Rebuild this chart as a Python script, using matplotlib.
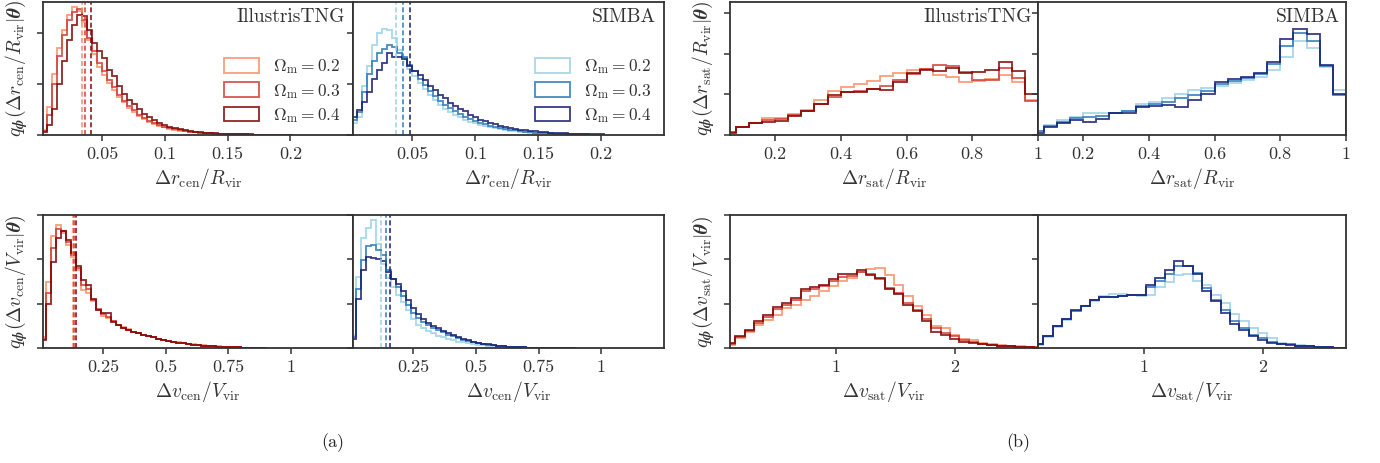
import numpy as np
import matplotlib
matplotlib.use("Agg")
import matplotlib.pyplot as plt

plt.rcParams["font.family"] = "serif"
plt.rcParams["font.serif"] = ["cmr10"]
plt.rcParams["mathtext.fontset"] = "cm"
plt.rcParams["axes.unicode_minus"] = False
plt.rcParams["axes.formatter.use_mathtext"] = True

# ---------------- data (heights in arbitrary density units) ----------------
omega_labels = [r"$\Omega_{\rm m} = 0.2$", r"$\Omega_{\rm m} = 0.3$", r"$\Omega_{\rm m} = 0.4$"]
tng_colors = ["#fb8c62", "#cf3b33", "#800000"]
simba_colors = ["#99d1e6", "#2a76ba", "#141a73"]

# (a) top: delta r_cen / R_vir, bins of 0.004 from 0.002
rcen_edges = np.linspace(0.002, 0.202, 51)
rcen_tng_02 = [1.0, 5.5, 12.0, 17.0, 20.5, 23.5, 25.0, 24.3, 22.0, 18.5,
               15.8, 13.3, 11.8, 10.2, 8.8, 7.4, 6.4, 5.2, 4.5, 3.8,
               3.2, 2.6, 2.2, 1.8, 1.5, 1.2, 1.0, 0.85, 0.7, 0.6,
               0.5, 0.42, 0.36, 0.3, 0.26, 0.22, 0.18, 0.16, 0.13, 0.11,
               0.1, 0.08, 0.07, 0.06, 0.05, 0.05, 0.04, 0.04, 0.03, 0.03]
rcen_tng_03 = [0.8, 4.0, 10.0, 15.5, 19.5, 22.5, 24.0, 24.6, 22.5, 19.0,
               16.5, 14.0, 12.5, 10.8, 9.3, 7.8, 6.7, 5.6, 4.8, 4.0,
               3.4, 2.8, 2.3, 1.9, 1.6, 1.3, 1.1, 0.9, 0.75, 0.62,
               0.52, 0.44, 0.37, 0.31, 0.27, 0.23, 0.19, 0.16, 0.14, 0.12,
               0.1, 0.09, 0.08, 0.07, 0.06, 0.05, 0.04, 0.04, 0.03, 0.03]
rcen_tng_04 = [0.5, 2.0, 5.0, 10.0, 14.5, 18.5, 21.5, 23.5, 23.2, 20.5,
               18.0, 16.5, 15.0, 12.8, 11.5, 9.5, 8.0, 6.8, 6.0, 5.0,
               4.2, 3.5, 2.9, 2.4, 1.9, 1.6, 1.3, 1.1, 0.9, 0.75,
               0.62, 0.52, 0.44, 0.37, 0.31, 0.26, 0.22, 0.19, 0.16, 0.14,
               0.12, 0.1, 0.09, 0.08, 0.07, 0.06, 0.05, 0.05, 0.04, 0.04]
rcen_simba_02 = [2.3, 3.5, 9.5, 13.5, 17.5, 20.0, 20.7, 20.5, 19.0, 16.7,
                 15.0, 13.0, 11.5, 10.2, 9.0, 7.8, 6.8, 5.9, 5.1, 4.5,
                 4.0, 3.5, 3.0, 2.6, 2.3, 2.0, 1.7, 1.5, 1.3, 1.1,
                 0.95, 0.8, 0.7, 0.6, 0.5, 0.42, 0.36, 0.3, 0.26, 0.22,
                 0.19, 0.16, 0.14, 0.12, 0.1, 0.09, 0.08, 0.07, 0.06, 0.05]
rcen_simba_03 = [3.0, 4.5, 8.5, 12.0, 14.5, 16.0, 16.8, 17.6, 17.3, 16.0,
                 15.2, 13.6, 12.5, 11.0, 9.8, 8.6, 7.6, 6.7, 5.9, 5.2,
                 4.6, 4.1, 3.6, 3.2, 2.8, 2.4, 2.1, 1.8, 1.6, 1.4,
                 1.2, 1.0, 0.88, 0.76, 0.65, 0.56, 0.48, 0.41, 0.35, 0.3,
                 0.26, 0.22, 0.19, 0.16, 0.14, 0.12, 0.1, 0.09, 0.08, 0.07]
rcen_simba_04 = [3.5, 4.9, 6.5, 8.5, 11.0, 12.8, 14.0, 16.0, 15.3, 15.2,
                 14.8, 13.5, 12.6, 11.8, 10.8, 9.6, 8.7, 7.9, 7.2, 6.2,
                 5.7, 5.0, 4.6, 3.9, 3.5, 3.0, 2.7, 2.4, 2.1, 1.8,
                 1.6, 1.4, 1.2, 1.05, 0.9, 0.8, 0.7, 0.6, 0.52, 0.45,
                 0.4, 0.35, 0.3, 0.26, 0.22, 0.19, 0.16, 0.14, 0.12, 0.1]
rcen_tng_median = [0.0338, 0.0364, 0.041]
rcen_simba_median = [0.0371, 0.0424, 0.0478]

# (a) bottom: delta v_cen / V_vir, bins of 0.02 from 0.001
vcen_edges = np.linspace(0.001, 0.901, 46)
vcen_tng_02 = [2.4, 14.9, 25.2, 27.8, 26.0, 23.3, 20.5, 17.5, 13.0, 12.3,
               10.5, 8.6, 7.3, 6.8, 6.0, 5.3, 4.7, 4.2, 3.7, 3.3,
               3.0, 2.7, 2.4, 2.1, 1.85, 1.6, 1.4, 1.25, 1.1, 0.95,
               0.82, 0.7, 0.6, 0.5, 0.42, 0.35, 0.29, 0.23, 0.18, 0.14,
               0.11, 0.08, 0.06, 0.05, 0.04]
vcen_tng_03 = [2.0, 12.5, 22.5, 26.8, 26.3, 24.0, 21.0, 18.0, 14.2, 13.2,
               10.8, 8.8, 7.6, 7.0, 6.1, 5.2, 4.6, 4.1, 3.7, 3.3,
               3.0, 2.7, 2.4, 2.1, 1.8, 1.6, 1.4, 1.2, 1.05, 0.9,
               0.78, 0.66, 0.56, 0.47, 0.39, 0.32, 0.26, 0.2, 0.16, 0.12,
               0.09, 0.07, 0.05, 0.04, 0.03]
vcen_tng_04 = [1.7, 10.0, 19.5, 24.8, 26.5, 24.3, 21.5, 18.5, 15.3, 14.2,
               11.1, 8.6, 7.9, 7.8, 5.9, 5.1, 4.4, 4.0, 3.6, 3.3,
               3.0, 2.7, 2.4, 2.1, 1.8, 1.6, 1.4, 1.2, 1.05, 0.9,
               0.78, 0.66, 0.56, 0.47, 0.39, 0.32, 0.26, 0.2, 0.16, 0.12,
               0.09, 0.07, 0.05, 0.04, 0.03]
vcen_simba_02 = [3.0, 16.0, 24.8, 27.0, 28.8, 23.5, 19.0, 15.8, 13.8, 12.0,
                 10.3, 8.6, 6.5, 5.2, 4.5, 3.9, 3.3, 2.8, 2.4, 2.0,
                 1.7, 1.45, 1.25, 1.05, 0.9, 0.75, 0.62, 0.5, 0.4, 0.32,
                 0.25, 0.2, 0.15, 0.12, 0.09, 0.07, 0.05, 0.04, 0.03, 0.02,
                 0.02, 0.01, 0.01, 0.01, 0.01]
vcen_simba_03 = [2.5, 13.4, 19.8, 22.9, 23.3, 22.1, 21.0, 17.5, 15.5, 13.8,
                 11.8, 9.8, 8.0, 6.8, 5.9, 5.1, 4.5, 4.0, 3.5, 3.0,
                 2.6, 2.2, 1.85, 1.55, 1.3, 1.1, 0.9, 0.74, 0.6, 0.48,
                 0.38, 0.3, 0.23, 0.18, 0.13, 0.1, 0.07, 0.05, 0.04, 0.03,
                 0.02, 0.02, 0.01, 0.01, 0.01]
vcen_simba_04 = [2.0, 11.0, 17.6, 20.5, 20.3, 20.0, 19.6, 17.2, 15.5, 14.5,
                 12.8, 10.8, 9.0, 7.6, 6.5, 5.6, 4.9, 4.4, 3.9, 3.4,
                 2.9, 2.5, 2.1, 1.75, 1.45, 1.2, 1.0, 0.82, 0.66, 0.52,
                 0.41, 0.32, 0.25, 0.19, 0.14, 0.1, 0.07, 0.05, 0.04, 0.03,
                 0.02, 0.02, 0.01, 0.01, 0.01]
vcen_tng_median = [0.130, 0.135, 0.140]
vcen_simba_median = [0.120, 0.140, 0.157]

# (b) top: delta r_sat / R_vir, bins of 0.04 from 0.04 to 1
rsat_edges = np.linspace(0.04, 1.0, 25)
rsat_tng_02 = [0.8, 1.9, 2.9, 4.1, 4.3, 5.1, 6.1, 8.6, 10.9, 11.7, 12.5, 13.3,
               14.5, 15.2, 16.0, 16.2, 14.8, 14.2, 13.1, 13.3, 13.7, 14.8, 13.1, 8.6]
rsat_tng_03 = [0.7, 1.9, 2.9, 3.6, 3.9, 4.9, 6.0, 7.6, 9.3, 10.5, 10.7, 11.3,
               12.0, 13.5, 15.0, 16.2, 17.2, 17.0, 15.6, 13.5, 13.5, 16.4, 13.9, 8.4]
rsat_tng_04 = [0.6, 1.9, 2.9, 3.3, 3.5, 4.7, 5.9, 7.6, 9.8, 10.5, 10.5, 11.2,
               11.0, 13.1, 15.2, 16.0, 15.8, 16.4, 15.3, 15.6, 16.0, 18.0, 15.8, 10.0]
rsat_simba_02 = [1.1, 2.5, 3.7, 4.5, 5.5, 5.3, 5.3, 6.0, 7.6, 8.2, 9.0, 10.2,
                 11.1, 11.5, 12.0, 12.7, 13.5, 14.3, 16.1, 19.1, 23.2, 21.3, 16.8, 11.1]
rsat_simba_03 = [0.9, 2.2, 3.3, 4.1, 4.5, 4.6, 5.3, 5.8, 7.2, 7.6, 8.2, 9.0,
                 9.8, 10.8, 12.5, 13.2, 14.0, 15.0, 17.5, 21.9, 25.0, 23.2, 17.0, 9.8]
rsat_simba_04 = [0.6, 1.9, 2.9, 3.7, 3.3, 3.9, 5.3, 5.5, 6.8, 7.1, 7.4, 7.0,
                 8.6, 10.2, 13.1, 13.7, 14.3, 15.3, 17.9, 23.5, 26.1, 24.8, 17.3, 10.2]

# (b) bottom: delta v_sat / V_vir
vsat_edges = np.linspace(0.072, 2.745, 35)
vsat_tng_02 = [0.7, 2.2, 3.5, 5.2, 6.4, 7.5, 9.0, 9.8, 10.9, 11.7, 12.8, 13.9,
               15.1, 15.8, 17.1, 17.9, 18.1, 16.4, 14.1, 11.7, 9.4, 7.5, 5.0, 4.5,
               3.0, 2.0, 1.8, 1.1, 0.9, 0.6, 0.45, 0.35, 0.25, 0.15]
vsat_tng_03 = [0.9, 2.4, 3.9, 5.7, 7.1, 8.7, 9.8, 10.9, 12.9, 13.4, 14.0, 15.1,
               16.1, 16.2, 17.1, 16.6, 15.5, 13.6, 12.3, 10.2, 8.6, 6.5, 4.5, 3.3,
               2.6, 1.7, 1.4, 1.0, 0.75, 0.55, 0.4, 0.3, 0.2, 0.12]
vsat_tng_04 = [1.1, 2.6, 4.1, 6.0, 7.5, 9.2, 10.2, 11.3, 13.2, 13.8, 14.3, 15.5,
               16.6, 16.8, 17.6, 16.4, 15.8, 13.3, 12.2, 9.8, 8.3, 6.0, 3.6, 3.0,
               2.0, 1.4, 1.1, 0.8, 0.6, 0.45, 0.35, 0.25, 0.15, 0.1]
vsat_simba_02 = [0.7, 2.4, 4.8, 6.3, 8.3, 9.4, 10.5, 11.7, 12.2, 12.1, 11.9, 11.7,
                 12.0, 13.8, 14.8, 16.4, 16.8, 15.1, 14.1, 12.0, 10.2, 7.7, 6.2, 4.5,
                 3.3, 2.2, 1.2, 0.9, 0.6, 0.45, 0.3, 0.2, 0.1, 0.05]
vsat_simba_03 = [0.8, 2.6, 5.0, 6.6, 8.3, 9.5, 10.9, 11.4, 11.5, 11.8, 12.0, 12.0,
                 13.8, 15.2, 16.8, 18.6, 18.5, 17.0, 13.6, 10.9, 8.6, 6.0, 4.5, 3.0,
                 2.2, 1.4, 1.0, 0.8, 0.55, 0.4, 0.28, 0.18, 0.1, 0.05]
vsat_simba_04 = [0.9, 2.6, 5.0, 6.6, 8.6, 9.5, 10.9, 11.4, 11.5, 11.8, 12.0, 12.0,
                 14.3, 15.7, 17.7, 19.6, 18.6, 16.6, 12.8, 10.5, 7.9, 5.5, 4.1, 2.6,
                 1.8, 1.2, 0.9, 0.7, 0.5, 0.35, 0.25, 0.15, 0.1, 0.05]

rcen_ticks = [0.05, 0.1, 0.15, 0.2]
rcen_ticklabels = ["0.05", "0.1", "0.15", "0.2"]
vcen_ticks = [0.25, 0.5, 0.75, 1.0]
vcen_ticklabels = ["0.25", "0.5", "0.75", "1"]
rsat_ticks = [0.2, 0.4, 0.6, 0.8, 1.0]
rsat_ticklabels = ["0.2", "0.4", "0.6", "0.8", "1"]
vsat_ticks = [1, 2]
vsat_ticklabels = ["1", "2"]

# ---------------- figure ----------------
W, H = 1380, 463
fig = plt.figure(figsize=(W / 100, H / 100), dpi=100)


def px_axes(x0, y0, x1, y1):
    return fig.add_axes([x0 / W, 1 - y1 / H, (x1 - x0) / W, (y1 - y0) / H])


def style(ax, ylim, yticks, xlim, xticks, xticklabels, xlabel):
    ax.set_xlim(*xlim)
    ax.set_ylim(*ylim)
    ax.set_yticks(yticks)
    ax.set_yticklabels([])
    ax.set_xticks(xticks, xticklabels)
    ax.tick_params(direction="out", length=4.5, width=1.1, color="#333333",
                   labelsize=13, labelcolor="#333333", pad=4)
    for s in ax.spines.values():
        s.set_linewidth(1.3)
        s.set_color("#333333")
    ax.set_xlabel(xlabel, fontsize=14, color="#333333", labelpad=3)


def draw(ax, edges, series, colors, medians=None, legend=False):
    centers = 0.5 * (edges[:-1] + edges[1:])
    for vals, c, lab in zip(series, colors, omega_labels):
        ax.hist(centers[:len(vals)], bins=edges, weights=vals, histtype="step",
                color=c, lw=1.3, alpha=0.85, label=lab)
    if medians is not None:
        for m, c in zip(medians, colors):
            ax.axvline(m, color=c, lw=1.2, ls=(0, (3, 1.6)), alpha=0.9)
    if legend:
        ax.legend(loc="center right", bbox_to_anchor=(1.01, 0.33), frameon=False,
                  fontsize=12.5, handlelength=2.0, handleheight=0.9,
                  labelspacing=0.3, handletextpad=0.8, labelcolor="#333333")


def ylab(ax, text):
    ax.set_ylabel(text, fontsize=14, color="#333333", labelpad=1)


ax_xa = [43, 353, 664]
ax_xb = [730, 1038, 1346]
top_y = (2, 135)
bot_y = (215, 348)

rcen_label = r"$\Delta r_{\rm cen}/R_{\rm vir}$"
vcen_label = r"$\Delta v_{\rm cen}/V_{\rm vir}$"
rsat_label = r"$\Delta r_{\rm sat}/R_{\rm vir}$"
vsat_label = r"$\Delta v_{\rm sat}/V_{\rm vir}$"

# (a) top
ax1 = px_axes(ax_xa[0], top_y[0], ax_xa[1], top_y[1])
ax2 = px_axes(ax_xa[1], top_y[0], ax_xa[2], top_y[1])
draw(ax1, rcen_edges, [rcen_tng_02, rcen_tng_03, rcen_tng_04], tng_colors, rcen_tng_median, True)
draw(ax2, rcen_edges, [rcen_simba_02, rcen_simba_03, rcen_simba_04], simba_colors, rcen_simba_median, True)
for ax in (ax1, ax2):
    style(ax, (0, 26), [0, 10, 20], (0.0027, 0.25), rcen_ticks, rcen_ticklabels, rcen_label)
ylab(ax1, r"$q_{\boldsymbol{\phi}}(\Delta r_{\rm cen}/R_{\rm vir}|\boldsymbol{\theta})$")

# (a) bottom
ax3 = px_axes(ax_xa[0], bot_y[0], ax_xa[1], bot_y[1])
ax4 = px_axes(ax_xa[1], bot_y[0], ax_xa[2], bot_y[1])
draw(ax3, vcen_edges, [vcen_tng_02, vcen_tng_03, vcen_tng_04], tng_colors, vcen_tng_median)
draw(ax4, vcen_edges, [vcen_simba_02, vcen_simba_03, vcen_simba_04], simba_colors, vcen_simba_median)
for ax in (ax3, ax4):
    style(ax, (0, 30), [0, 10, 20, 30], (0.01, 1.25), vcen_ticks, vcen_ticklabels, vcen_label)
ylab(ax3, r"$q_{\boldsymbol{\phi}}(\Delta v_{\rm cen}/V_{\rm vir}|\boldsymbol{\theta})$")

# (b) top
ax5 = px_axes(ax_xb[0], top_y[0], ax_xb[1], top_y[1])
ax6 = px_axes(ax_xb[1], top_y[0], ax_xb[2], top_y[1])
draw(ax5, rsat_edges, [rsat_tng_02, rsat_tng_03, rsat_tng_04], tng_colors)
draw(ax6, rsat_edges, [rsat_simba_02, rsat_simba_03, rsat_simba_04], simba_colors)
for ax in (ax5, ax6):
    style(ax, (0, 32.7), [0, 10, 20, 30], (0.063, 1.0), rsat_ticks, rsat_ticklabels, rsat_label)
ylab(ax5, r"$q_{\boldsymbol{\phi}}(\Delta r_{\rm sat}/R_{\rm vir}|\boldsymbol{\theta})$")

# (b) bottom
ax7 = px_axes(ax_xb[0], bot_y[0], ax_xb[1], bot_y[1])
ax8 = px_axes(ax_xb[1], bot_y[0], ax_xb[2], bot_y[1])
draw(ax7, vsat_edges, [vsat_tng_02, vsat_tng_03, vsat_tng_04], tng_colors)
draw(ax8, vsat_edges, [vsat_simba_02, vsat_simba_03, vsat_simba_04], simba_colors)
for ax in (ax7, ax8):
    style(ax, (0, 30), [0, 10, 20, 30], (0.105, 2.7), vsat_ticks, vsat_ticklabels, vsat_label)
ylab(ax7, r"$q_{\boldsymbol{\phi}}(\Delta v_{\rm sat}/V_{\rm vir}|\boldsymbol{\theta})$")

# simulation names
for ax, name, xr in [(ax1, "IllustrisTNG", 0.974), (ax2, "SIMBA", 0.974),
                     (ax5, "IllustrisTNG", 0.98), (ax6, "SIMBA", 0.98)]:
    ax.text(xr, 0.89, name, transform=ax.transAxes, ha="right", va="center",
            fontsize=14, color="#333333")

fig.text(333 / W, 1 - 443 / H, "(a)", ha="center", va="center", fontsize=13, color="#222222")
fig.text(1018 / W, 1 - 443 / H, "(b)", ha="center", va="center", fontsize=13, color="#222222")

fig.savefig("out.png", dpi=100)
